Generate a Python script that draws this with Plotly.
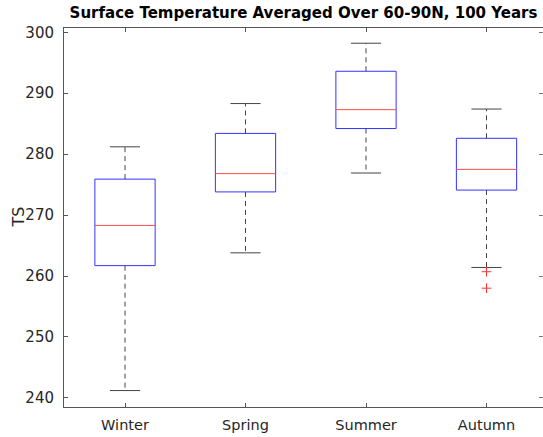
import plotly.graph_objects as go

# Data
seasons = ["Winter", "Spring", "Summer", "Autumn"]
lower_whisker = [241.2, 263.8, 276.9, 261.4]
q1 = [261.7, 273.8, 284.2, 274.1]
median = [268.3, 276.8, 287.3, 277.5]
q3 = [275.9, 283.4, 293.6, 282.6]
upper_whisker = [281.2, 288.3, 298.2, 287.4]
outlier_season = ["Autumn", "Autumn"]
outlier_value = [260.7, 258.0]
yticks = [240, 250, 260, 270, 280, 290, 300]

W, H = 543, 437
ML, MR, MT, MB = 64, 0, 28, 30
BOX_HALF = 0.25
CAP_HALF = 0.125
FONT = "DejaVu Sans"
TXT = "#262626"

pos = list(range(1, len(seasons) + 1))

box_x, box_y = [], []
med_x, med_y = [], []
wh_x, wh_y = [], []
cap_x, cap_y = [], []
for p, lo, a, m, b, hi in zip(pos, lower_whisker, q1, median, q3, upper_whisker):
    box_x += [p - BOX_HALF, p + BOX_HALF, p + BOX_HALF, p - BOX_HALF, p - BOX_HALF, None]
    box_y += [a, a, b, b, a, None]
    med_x += [p - BOX_HALF, p + BOX_HALF, None]
    med_y += [m, m, None]
    wh_x += [p, p, None, p, p, None]
    wh_y += [b, hi, None, a, lo, None]
    cap_x += [p - CAP_HALF, p + CAP_HALF, None, p - CAP_HALF, p + CAP_HALF, None]
    cap_y += [hi, hi, None, lo, lo, None]

out_x = [pos[seasons.index(s)] for s in outlier_season]

fig = go.Figure()
fig.add_trace(go.Scatter(x=wh_x, y=wh_y, mode="lines",
                         line=dict(color="#444444", width=1, dash="5px,4px"),
                         hoverinfo="skip"))
fig.add_trace(go.Scatter(x=cap_x, y=cap_y, mode="lines",
                         line=dict(color="#444444", width=1), hoverinfo="skip"))
fig.add_trace(go.Scatter(x=box_x, y=box_y, mode="lines",
                         line=dict(color="#3333ff", width=1), hoverinfo="skip"))
fig.add_trace(go.Scatter(x=med_x, y=med_y, mode="lines",
                         line=dict(color="#ff4d4d", width=1), hoverinfo="skip"))
fig.add_trace(go.Scatter(x=out_x, y=outlier_value, mode="markers",
                         marker=dict(symbol="cross-thin", size=7,
                                     line=dict(color="#ff3333", width=1)),
                         hoverinfo="skip"))
# invisible trace to activate right-side tick axis
fig.add_trace(go.Scatter(x=[pos[0]], y=[yticks[0]], yaxis="y2", mode="markers",
                         marker=dict(opacity=0), hoverinfo="skip"))

px_per_unit = 120.5
plot_w = W - ML - MR
x0 = 1 - (125 - ML) / px_per_unit
x1 = x0 + plot_w / px_per_unit
yr = [238.5, 300.7]

fig.update_layout(
    width=W, height=H,
    margin=dict(l=ML, r=MR, t=MT, b=MB),
    paper_bgcolor="white", plot_bgcolor="white",
    showlegend=False,
    font=dict(family=FONT, size=14, color=TXT),
    title=dict(text="<b>Surface Temperature Averaged Over 60-90N, 100 Years</b>",
               x=0.5, xref="paper", xanchor="center",
               y=1 - 13 / H, yref="container", yanchor="middle",
               font=dict(family=FONT, size=15, color="#000000")),
    xaxis=dict(range=[x0, x1], tickvals=pos, ticktext=seasons,
               showgrid=False, zeroline=False,
               showline=True, linecolor="#555555", linewidth=1, mirror="ticks",
               ticks="inside", ticklen=4, tickcolor="#555555",
               ticklabelstandoff=5,
               tickfont=dict(size=14.5, color=TXT)),
    yaxis=dict(range=yr, tickvals=yticks, showgrid=False, zeroline=False,
               showline=True, linecolor="#555555", linewidth=1,
               ticks="inside", ticklen=4, tickcolor="#555555",
               ticklabelstandoff=6,
               tickfont=dict(size=15, color=TXT)),
    yaxis2=dict(range=yr, tickvals=yticks, overlaying="y", side="right",
                showgrid=False, zeroline=False, showline=False,
                ticks="inside", ticklen=4, tickcolor="#777777",
                showticklabels=False),
    annotations=[dict(text="TS", xref="paper", yref="paper",
                      x=-(ML - 18) / plot_w, y=0.5, xanchor="center", yanchor="middle",
                      textangle=-90, showarrow=False,
                      font=dict(family=FONT, size=16, color=TXT))],
)

fig.write_html("out.html")
